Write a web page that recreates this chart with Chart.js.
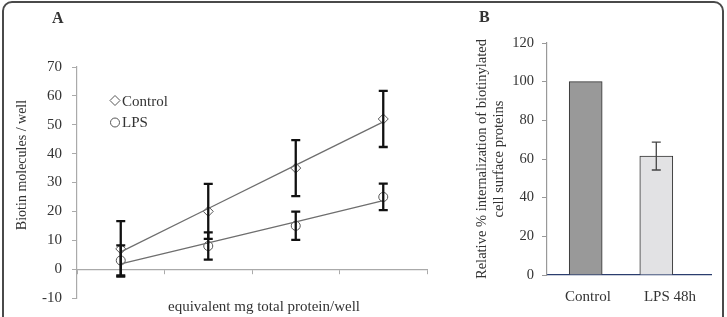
<!DOCTYPE html>
<html>
<head>
<meta charset="utf-8">
<script src="https://cdn.jsdelivr.net/npm/chart.js@4.4.1/dist/chart.umd.min.js"></script>
<style>
  html, body { margin: 0; padding: 0; background: #fff; }
  #wrap { position: relative; width: 727px; height: 317px; overflow: hidden; font-family: "Liberation Serif", serif; }
  #frame { position: absolute; left: 2px; top: 1px; width: 718px; height: 360px; border: 2px solid #4a4a4a; border-radius: 10px; }
  #boxA { position: absolute; left: 0; top: 0; }
  #boxB { position: absolute; left: 462px; top: 0; }
  .tag { position: absolute; font-weight: bold; font-size: 16px; line-height: 1; color: #333; }
</style>
</head>
<body>
<div id="wrap">
  <div id="frame"></div>
  <canvas id="boxA" width="480" height="317"></canvas>
  <canvas id="boxB" width="265" height="317"></canvas>
  <div class="tag" style="left:52px; top:10px;">A</div>
  <div class="tag" style="left:479px; top:9px;">B</div>
</div>
<script>
'use strict';

// panel A: biotin molecules per well
let doseLabels = ['1', '2', '3', '4'];
let controlMean = [7, 20, 35, 52];
let controlErr = [9.6, 9.5, 9.7, 9.7];
let lpsMean = [3, 8, 15, 25];
let lpsErr = [5.2, 4.7, 4.9, 4.6];
// trend lines
let controlTrend = [6, 21, 36, 51];
let lpsTrend = [1.8, 9.1, 16.4, 23.7];
let yTicksA = { min: -10, max: 70, step: 10 };

// panel B: relative internalization
let barLabels = ['Control', 'LPS 48h'];
let barValues = [100, 61.5];
let barErr = [0, 7.2];
let yTicksB = { min: 0, max: 120, step: 20 };

let serif = '"Liberation Serif", "Times New Roman", serif';

// draws vertical error bars for any dataset that has an errors array
let errorBars = {
  id: 'errorBars',
  afterDatasetsDraw(chart) {
    let ctx = chart.ctx;
    chart.data.datasets.forEach(function(ds, i) {
      if (!ds.errors) return;
      let meta = chart.getDatasetMeta(i);
      let yScale = chart.scales[meta.yAxisID];
      meta.data.forEach(function(el, j) {
        let e = ds.errors[j];
        if (!e) return;
        let v = typeof ds.data[j] === 'object' ? ds.data[j].y : ds.data[j];
        let x = el.x;
        let top = yScale.getPixelForValue(v + e);
        let bot = yScale.getPixelForValue(v - e);
        let cap = ds.errorCap;
        ctx.save();
        ctx.strokeStyle = ds.errorColor;
        ctx.lineWidth = ds.errorWidth;
        ctx.beginPath();
        ctx.moveTo(x, top); ctx.lineTo(x, bot);
        ctx.moveTo(x - cap, top); ctx.lineTo(x + cap, top);
        ctx.moveTo(x - cap, bot); ctx.lineTo(x + cap, bot);
        ctx.stroke();
        ctx.restore();
      });
    });
  }
};

// legend and axis titles of panel A
let panelAText = {
  id: 'panelAText',
  afterDraw(chart) {
    let ctx = chart.ctx;
    ctx.save();
    ctx.fillStyle = '#333';
    ctx.strokeStyle = '#555';
    ctx.lineWidth = 1;
    ctx.font = '15px ' + serif;
    ctx.textBaseline = 'alphabetic';
    ctx.textAlign = 'left';
    // legend
    ctx.beginPath();
    ctx.moveTo(110, 100.5); ctx.lineTo(115, 95.5); ctx.lineTo(120, 100.5); ctx.lineTo(115, 105.5); ctx.closePath();
    ctx.stroke();
    ctx.fillText('Control', 122, 106);
    ctx.beginPath();
    ctx.arc(115, 122.5, 4.5, 0, Math.PI * 2);
    ctx.stroke();
    ctx.fillText('LPS', 122, 127);
    // x title
    ctx.fillText('equivalent mg total protein/well', 168, 311);
    // y title
    ctx.font = '14px ' + serif;
    ctx.translate(22, 165);
    ctx.rotate(-Math.PI / 2);
    ctx.textAlign = 'center';
    ctx.textBaseline = 'middle';
    ctx.fillText('Biotin molecules / well', 0, 0);
    ctx.restore();
  }
};

new Chart(document.getElementById('boxA'), {
  type: 'line',
  data: {
    labels: doseLabels,
    datasets: [{
      label: 'Control trend',
      data: controlTrend,
      borderColor: '#6e6e6e',
      borderWidth: 1.3,
      pointRadius: 0,
      fill: false
    }, {
      label: 'LPS trend',
      data: lpsTrend,
      borderColor: '#6e6e6e',
      borderWidth: 1.3,
      pointRadius: 0,
      fill: false
    }, {
      label: 'Control',
      data: controlMean,
      errors: controlErr,
      errorColor: '#111',
      errorWidth: 2.3,
      errorCap: 4.5,
      showLine: false,
      pointStyle: 'rectRot',
      pointRadius: 5,
      borderColor: '#555',
      borderWidth: 1,
      backgroundColor: 'rgba(0,0,0,0)'
    }, {
      label: 'LPS',
      data: lpsMean,
      errors: lpsErr,
      errorColor: '#111',
      errorWidth: 2.3,
      errorCap: 4.5,
      showLine: false,
      pointStyle: 'circle',
      pointRadius: 4.5,
      borderColor: '#555',
      borderWidth: 1,
      backgroundColor: 'rgba(0,0,0,0)'
    }]
  },
  options: {
    responsive: false,
    animation: false,
    devicePixelRatio: 1,
    layout: { padding: { left: 0, right: 53, top: 67, bottom: 13 } },
    plugins: { legend: { display: false }, tooltip: { enabled: false } },
    scales: {
      x: {
        type: 'category',
        position: { y: 0 },
        offset: true,
        grid: { offset: true, drawOnChartArea: false, tickLength: 4, color: '#aaa' },
        border: { color: '#aaa', width: 1.2 },
        ticks: { display: false }
      },
      y: {
        min: yTicksA.min,
        max: yTicksA.max,
        afterFit: function(scale) { scale.width = 77; },
        grid: { drawOnChartArea: false, tickLength: 5, color: '#aaa' },
        border: { color: '#aaa', width: 1.2 },
        ticks: { stepSize: yTicksA.step, padding: 10, color: '#333', font: { family: serif, size: 15 } }
      }
    }
  },
  plugins: [errorBars, panelAText]
});

new Chart(document.getElementById('boxB'), {
  type: 'bar',
  data: {
    labels: barLabels,
    datasets: [{
      label: 'Relative internalization',
      xAxisID: 'xb',
      data: barValues.map(function(v, i) { return { x: i + 1, y: v }; }),
      errors: barErr,
      errorColor: '#444',
      errorWidth: 1.3,
      errorCap: 4.5,
      backgroundColor: ['#999999', '#e2e2e4'],
      borderColor: '#333',
      borderWidth: 1,
      barThickness: 33
    }]
  },
  options: {
    responsive: false,
    animation: false,
    devicePixelRatio: 1,
    layout: { padding: { left: 0, right: 16, top: 43, bottom: 0 } },
    plugins: { legend: { display: false }, tooltip: { enabled: false } },
    scales: {
      x: {
        type: 'category',
        offset: true,
        afterFit: function(scale) { scale.height = 42; },
        grid: { display: false, drawTicks: false },
        border: { color: '#2b3d6e', width: 1.2 },
        ticks: { padding: 13, color: '#333', font: { family: serif, size: 15 } }
      },
      xb: {
        type: 'linear',
        display: false,
        offset: false,
        grid: { offset: false },
        min: 0.452,
        max: 2.775
      },
      y: {
        min: yTicksB.min,
        max: yTicksB.max,
        afterFit: function(scale) { scale.width = 85; },
        grid: { drawOnChartArea: false, tickLength: 5, color: '#999' },
        border: { color: '#999', width: 1.2 },
        ticks: { stepSize: yTicksB.step, padding: 8, color: '#333', font: { family: serif, size: 14.5 } },
        title: {
          display: true,
          text: ['Relative % internalization of biotinylated', 'cell surface proteins'],
          color: '#333',
          font: { family: serif, size: 14.5 },
          padding: { top: 11, bottom: 0 }
        }
      }
    }
  },
  plugins: [errorBars]
});
</script>
</body>
</html>
